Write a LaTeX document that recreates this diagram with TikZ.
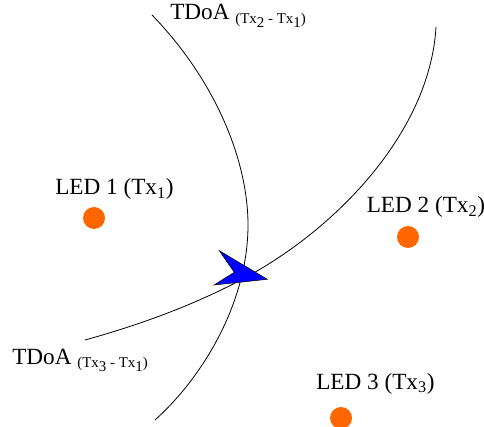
\documentclass[tikz,border=0pt]{standalone}
\usepackage{fontspec}
\setmainfont{Liberation Serif}
\usetikzlibrary{positioning}
\definecolor{ledorange}{HTML}{FF6600}
\definecolor{rxblue}{HTML}{0000FF}
\newcommand{\lowtext}[2][0.45ex]{\raisebox{-#1}{#2}}
\tikzset{
  led/.style={circle, fill=ledorange, draw=none, minimum size=16.5pt, inner sep=0pt},
  ledlabel/.style={font=\fontsize{17.4pt}{19pt}\selectfont, inner sep=0pt, anchor=base west},
  tdoalabel/.style={font=\fontsize{17.4pt}{19pt}\selectfont, inner sep=0pt, anchor=base west},
  hyper/.style={draw=black, line width=0.6pt},
  rxshape/.style={fill=rxblue, draw=black, line width=0.4pt, line join=miter},
}
\newcommand{\txsub}[2]{{\fontsize{11.2pt}{13pt}\selectfont\lowtext{(Tx\lowtext[0.7ex]{#1} - Tx\lowtext[0.7ex]{#2})}}}
\begin{document}
\begin{tikzpicture}[x=0.75pt, y=-0.75pt]
    \useasboundingbox (0,0) rectangle (484,427);
    % LEDs
    \node[led] (led1) at (94,218) {};
    \node[led] (led2) at (408,237) {};
    \node[led] (led3) at (341,418) {};
    \node[ledlabel] (led1text) at (55,195) {LED 1 (Tx\textsubscript{1})};
    \node[ledlabel] (led2text) at (366.5,213) {LED 2 (Tx\textsubscript{2})};
    \node[ledlabel] (led3text) at (316,389) {LED 3 (Tx\textsubscript{3})};
    % Curve ends
    \coordinate (atop) at (152,15);
    \coordinate (amid) at (248,225);
    \coordinate (abot) at (155,420);
    \coordinate (bleft) at (85,340);
    \coordinate (bmid) at (250,275);
    \coordinate (bright) at (436,27);
    \draw[hyper] (atop) .. controls (215,80) and (248,160) .. (amid)
      .. controls (248,300) and (205,375) .. (abot);
    \draw[hyper] (bleft) .. controls (150,322) and (205,300) .. (bmid)
      .. controls (340,225) and (430,130) .. (bright);
    % Receiver
    \draw[rxshape] (267.3,279.3) -- (219.3,250.7) -- (234.3,272.3) -- (214,285) -- cycle;
    % Labels
    \node[tdoalabel] (tdoa21) at (170,20) {TDoA \txsub{2}{1}};
    \node[tdoalabel] (tdoa31) at (12,364) {TDoA \txsub{3}{1}};
\end{tikzpicture}
\end{document}
